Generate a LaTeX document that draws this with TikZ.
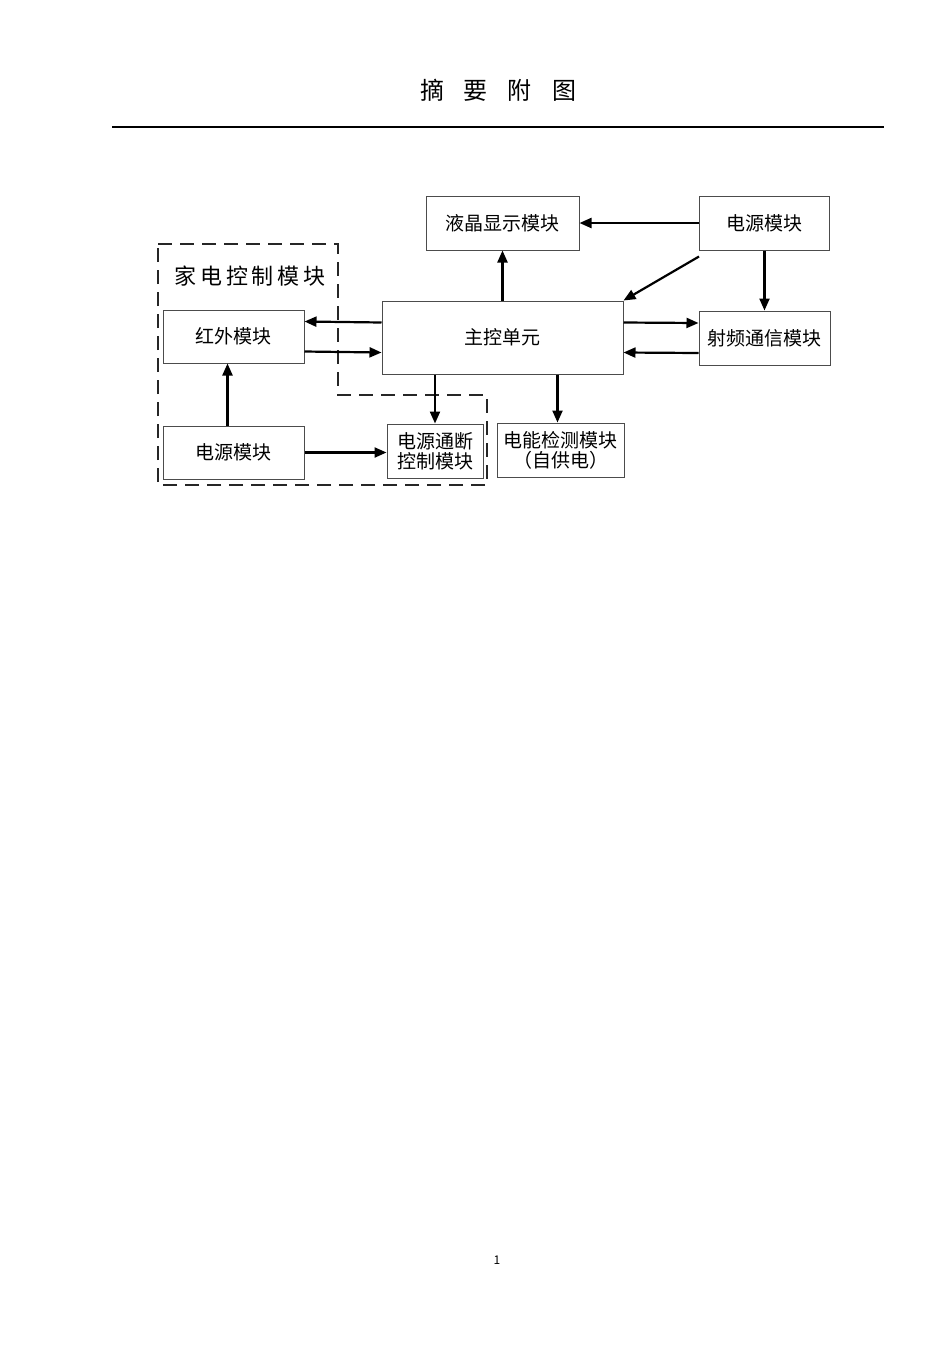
\documentclass[tikz,border=0pt]{standalone}
\usepackage{fontspec}
\newfontfamily\cjk{Noto Sans CJK SC}
\usepackage{tikz}
\usetikzlibrary{arrows.meta,calc}
\pgfkeys{tikz/myblock/.style={draw=black!70,line width=1pt,inner sep=0pt,align=center,font=\cjk\fontsize{19}{20}\selectfont}}
\pgfkeys{tikz/myarrow/.style={-{Triangle[length=12pt,width=10pt]},line width=2.2pt}}
\pgfkeys{tikz/mygroup/.style={draw=black!85,line width=1.1pt,dash pattern=on 14pt off 8pt}}
\newcommand\myarrowshift{15pt}

\begin{document}
\begin{tikzpicture}[x=1pt,y=-1pt]
    \useasboundingbox[fill=white] (0,0) rectangle (950,1345);
    \node[font=\cjk\fontsize{24}{26}\selectfont] (title) at (498,90) {摘\hspace{20pt}要\hspace{20pt}附\hspace{20pt}图};
    \draw[line width=1.4pt] (112,127) -- (884,127);
    % group of household control
    \draw[mygroup] (158,244) -- (338,244) -- (338,395) -- (487,395) -- (487,485) -- (158,485) -- cycle;
    \node[font=\cjk\fontsize{22}{24}\selectfont] (grp) at (250,276) {家\,电\,控\,制\,模\,块};
    % blocks
    \node[myblock,minimum width=153,minimum height=54] (lcd)   at (502.5,223) {液晶显示模块};
    \node[myblock,minimum width=130,minimum height=54] (psr)   at (764.5,223) {电源模块};
    \node[myblock,minimum width=141,minimum height=53] (ir)    at (233.5,336.5) {红外模块};
    \node[myblock,minimum width=241,minimum height=73] (main)  at (502.5,337.5) {主控单元};
    \node[myblock,minimum width=131,minimum height=54] (rf)    at (764.5,338) {射频通信模块};
    \node[myblock,minimum width=141,minimum height=53] (psl)   at (233.5,452.5) {电源模块};
    \node[myblock,minimum width=96,minimum height=54]  (onoff) at (435,451) {电源通断\\控制模块};
    \node[myblock,minimum width=127,minimum height=54] (meter) at (560.5,450) {电能检测模块\\（自供电）};
    \coordinate (diag) at ($(psr.south west)+(0,6)$);
    % arrows
    \draw[myarrow] ([yshift=\myarrowshift]main.west) -- ([yshift=\myarrowshift]ir.east);
    \draw[myarrow] ([yshift=-\myarrowshift]ir.east) -- ([yshift=-\myarrowshift]main.west);
    \draw[myarrow] ([yshift=\myarrowshift]main.east) -- ([yshift=\myarrowshift]rf.west);
    \draw[myarrow] ([yshift=-\myarrowshift]rf.west) -- ([yshift=-\myarrowshift]main.east);
    \draw[myarrow] (main.north) -- (lcd.south);
    \draw[myarrow] (psr.west) -- (lcd.east);
    \draw[myarrow] (psr.south) -- (rf.north);
    \draw[myarrow] (diag) -- (main.north east);
    \draw[myarrow] (main.south -| onoff.north) -- (onoff.north);
    \draw[myarrow] ([xshift=-3pt]main.south -| meter.north) -- ([xshift=-3pt]meter.north);
    \draw[myarrow] ([xshift=-6pt]psl.north) -- ([xshift=-6pt]ir.south);
    \draw[myarrow] (psl.east) -- (psl.east -| onoff.west);
    \node[font=\cjk\fontsize{12}{14}\selectfont] (page) at (497,1260) {1};
\end{tikzpicture}
\end{document}
